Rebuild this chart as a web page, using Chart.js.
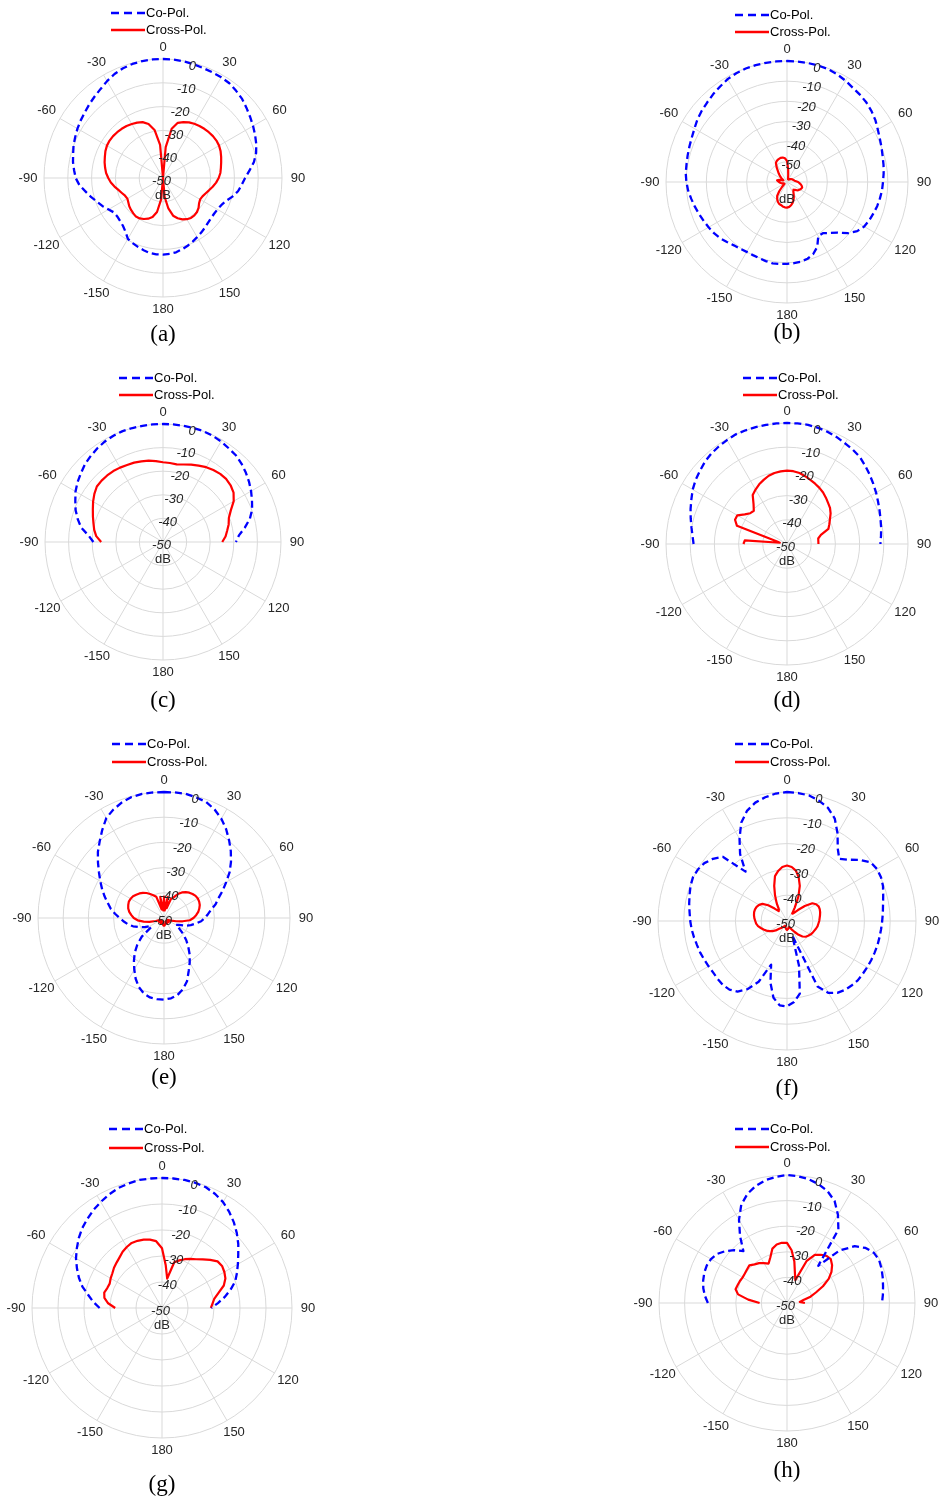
<!DOCTYPE html>
<html>
<head>
<meta charset="utf-8">
<title>Radiation patterns</title>
<script src="https://cdn.jsdelivr.net/npm/chart.js@4.4.1/dist/chart.umd.min.js"></script>
<style>
  body { margin: 0; background: #fff; width: 939px; height: 1500px; position: relative; overflow: hidden; }
  canvas { position: absolute; }
</style>
</head>
<body>
<script>
// Angle of each sample, degrees clockwise from broadside (0 at top)
const angles = [0,5,10,15,20,25,30,35,40,45,50,55,
  60,65,70,75,80,85,90,95,100,105,110,115,
  120,125,130,135,140,145,150,155,160,165,170,175,
  180,185,190,195,200,205,210,215,220,225,230,235,
  240,245,250,255,260,265,270,275,280,285,290,295,
  300,305,310,315,320,325,330,335,340,345,350,355];

const angleTicks = ['0','30','60','90','120','150','180','-150','-120','-90','-60','-30'];
const radialTicks = [0, -10, -20, -30, -40, -50];
const seriesNames = ['Co-Pol.', 'Cross-Pol.'];

// (a)
const coA = [0, 0, -0.2, -0.5, -0.8, -1.0, -1.1, -1.4, -2.2, -3.0, -4.2, -5.3,
  -6.3, -7.3, -8.3, -9.5, -11.2, -13.5, -15.5, -16.8, -18.0, -19.8, -21.8, -23.0,
  -23.6, -23.8, -23.7, -23.3, -22.7, -22.0, -21.3, -20.5, -19.7, -19.0, -18.3, -18.0,
  -17.8, -17.8, -18.0, -18.6, -19.2, -19.8, -20.5, -22.5, -23.8, -24.5, -24.9, -24.8,
  -23.6, -22.0, -20.6, -18.8, -17.0, -14.8, -13.3, -12.5, -11.6, -10.9, -10.0, -9.3,
  -8.5, -7.8, -7.1, -6.2, -5.3, -4.3, -3.0, -1.8, -0.9, -0.4, -0.1, 0];
const crossA = [-50, -37, -29, -26, -25, -24.2, -23.7, -23.3, -23.0, -22.8, -22.6, -22.6,
  -22.8, -23.3, -24.0, -24.7, -25.3, -25.8, -26.6, -27.6, -28.8, -30.0, -31.0, -31.7,
  -32.0, -31.5, -30.5, -29.8, -29.5, -29.5, -30.0, -30.8, -32.0, -33.6, -37, -42,
  -50, -41, -35.5, -33.0, -31.8, -31.0, -30.4, -30.2, -30.6, -31.0, -31.5, -32.2,
  -32.7, -32.4, -31.6, -30.6, -29.3, -28.0, -27.0, -26.0, -25.3, -24.6, -24.0, -23.3,
  -22.8, -22.6, -22.6, -22.8, -23.0, -23.3, -23.8, -24.3, -25, -26.5, -29.5, -36];

// (b)
const coB = [0, 0, -0.1, -0.2, -0.4, -1.1, -2.0, -3.0, -3.6, -4.3, -5.3, -6.5,
  -8.0, -9.2, -10.1, -10.9, -11.4, -11.9, -12.4, -12.7, -13.2, -13.7, -14.4, -15.0,
  -15.8, -17.5, -20.5, -24.5, -27.0, -29.0, -29.0, -24.5, -22.0, -20.6, -19.9, -19.6,
  -19.4, -19.2, -19.0, -19.4, -19.8, -20.0, -20.0, -19.6, -19.0, -17.9, -16.7, -15.8,
  -15.1, -14.4, -13.6, -12.7, -11.8, -10.8, -10.1, -9.6, -9.4, -9.0, -8.5, -7.9,
  -7.0, -5.8, -4.9, -4.1, -3.1, -2.2, -1.1, -0.5, -0.1, 0, 0, 0];
const crossB = [-49.5, -53.5, -56.5, -58, -58.5, -58.5, -58.5, -58.5, -58.3, -58, -57.8, -57.5,
  -57.3, -57, -56.8, -56.5, -56.2, -55.5, -54.5, -53.8, -53, -52.4, -52, -52.2,
  -52.6, -53, -53.6, -54.5, -55, -54.5, -53.5, -52, -50.5, -49.3, -48.3, -47.6,
  -47.3, -47.4, -47.7, -48.2, -48.5, -49.2, -50.3, -51.5, -54, -56.5, -58, -58.5,
  -58.5, -58.3, -58, -57.5, -57, -56.5, -56, -55.5, -55, -56, -57.5, -58,
  -57.5, -56.5, -55.5, -54.3, -53, -51, -49, -48.3, -47.9, -47.6, -47.7, -48.2];

// (c)
const coC = [0, 0, 0, 0, 0, -0.3, -0.8, -1.5, -2.0, -3.0, -4.2, -5.5,
  -6.9, -8.4, -9.8, -11.9, -14.8, -17.7, -19.1, null, null, null, null, null,
  null, null, null, null, null, null, null, null, null, null, null, null,
  null, null, null, null, null, null, null, null, null, null, null, null,
  null, null, null, null, null, null, -20.5, -18.3, -14.8, -12.6, -10.6, -9.0,
  -7.2, -5.8, -4.6, -3.3, -2.4, -1.5, -0.8, -0.3, 0, 0, 0, 0];
const crossC = [-16.2, -16.4, -16.6, -16.0, -15.1, -14.3, -13.4, -12.8, -12.3, -12.2, -12.6, -13.5,
  -15.4, -18.3, -20.3, -21.2, -22.4, -23.4, -24.9, null, null, null, null, null,
  null, null, null, null, null, null, null, null, null, null, null, null,
  null, null, null, null, null, null, null, null, null, null, null, null,
  null, null, null, null, null, null, -23.8, -21.6, -20.4, -19.5, -18.4, -17.2,
  -15.8, -14.5, -13.4, -13.2, -13.2, -13.3, -13.6, -14.0, -14.2, -14.6, -15.0, -15.6];

// (d)
const coD = [0, 0, 0, -0.3, -0.7, -1.3, -2.0, -2.5, -3.1, -4.3, -5.4, -6.5,
  -7.5, -8.5, -9.3, -10.0, -10.5, -11.0, -11.4, null, null, null, null, null,
  null, null, null, null, null, null, null, null, null, null, null, null,
  null, null, null, null, null, null, null, null, null, null, null, null,
  null, null, null, null, null, null, -11.4, -10.8, -9.9, -8.8, -7.6, -6.4,
  -5.0, -3.9, -3.0, -2.0, -1.3, -0.8, -0.4, 0, 0, 0, 0, 0];
const crossD = [-19.7, -19.8, -20.2, -21.0, -21.8, -22.5, -23.2, -24.0, -25.0, -26.0, -26.8, -28.0,
  -29.5, -30.7, -31.8, -35.5, -36.9, -37.0, -37.0, null, null, null, null, null,
  null, null, null, null, null, null, null, null, null, null, null, null,
  null, null, null, null, null, null, null, null, null, null, null, null,
  null, null, null, null, null, null, -32, -32.5, -47, -45.5, -28, -26.3,
  -26.3, -28.7, -30.2, -30.6, -28.5, -25.3, -24.0, -22.8, -21.8, -20.8, -20.2, -19.9];

// (e)
const coE = [0, 0, 0, -0.5, -1.0, -2.5, -4.5, -7.0, -9.8, -12.5, -15.3, -18.2,
  -21.5, -24.3, -27.0, -28.8, -31.0, -32.5, -33.8, -35.2, -37.2, -39.0, -41.0, -43.5,
  -44.5, -42.5, -40.0, -37.5, -35.0, -32.2, -29.6, -26.8, -23.3, -20.8, -19.0, -18.0,
  -17.6, -17.7, -18.0, -19.0, -20.8, -23.4, -26.4, -29.2, -31.9, -35.0, -38.5, -44.0,
  -43.5, -41.5, -39.5, -37.3, -35.5, -34.0, -32.4, -30.5, -28.5, -26.9, -24.9, -22.9,
  -20.8, -18.5, -15.8, -12.9, -10.3, -7.3, -4.2, -2.5, -1.2, -0.3, 0, 0];
const crossE = [-41.5, -47, -41.5, -46, -42, -41, -39, -37.6, -36.6, -35.8, -35.2, -34.7,
  -34.5, -34.6, -34.9, -35.5, -36.2, -37.2, -38.3, -39.7, -42.5, -45, -47, -48,
  -48.5, -48, -47.5, -48, -48.5, -48, -47.5, -48, -48.5, -48, -47.5, -47,
  -47, -47, -47.5, -48, -48.5, -48, -47.5, -48, -48.5, -48, -47.5, -48,
  -48.5, -48, -46.5, -44, -41.8, -39.5, -38, -37, -36, -35.3, -34.9, -34.6,
  -34.7, -35, -35.6, -36.2, -37, -37.9, -39, -40, -41, -46.5, -41.5, -47];

// (f)
const coF = [0, -0.2, -0.6, -1.8, -3.4, -6.2, -10.8, -15.7, -18.5, -16.4, -13.2, -10.4,
  -9.7, -9.8, -10.4, -11.4, -12.2, -12.7, -13.1, -13.4, -13.6, -13.7, -13.9, -14.0,
  -14.1, -14.2, -14.2, -14.6, -15.1, -16.0, -17.8, -22, -44, -32, -21.4, -18.5,
  -16.9, -17.2, -19.8, -25.2, -32, -24, -19.5, -16.6, -15.3, -14.9, -15.0, -15.1,
  -14.9, -14.6, -14.2, -13.9, -13.4, -12.9, -12.5, -12.1, -11.5, -10.9, -10.2, -9.8,
  -10.1, -10.9, -12.5, -14.8, -25, -18.3, -13.2, -8.0, -4.6, -2.5, -1.3, -0.4];
const crossF = [-28.5, -29.0, -30.2, -32.5, -35.5, -39.5, -44, -46.5, -46, -44, -41, -38,
  -37, -36.5, -36.5, -36.7, -37, -37.3, -37.5, -37.8, -38, -38.4, -38.8, -39.1,
  -39.5, -40, -40.5, -41.5, -43, -44.8, -46, -47, -47.5, -47.5, -47, -46.8,
  -46.5, -46.8, -47.2, -47.5, -48, -47.8, -47.5, -47, -46.5, -45.7, -44.3, -43.2,
  -42.2, -41.2, -40.3, -39.5, -38.6, -38, -37.7, -37.3, -37, -36.8, -36.8, -37,
  -37.5, -38.4, -40.5, -43.2, -45, -44.5, -42, -39, -35.5, -32, -30.3, -29.0];

// (g)
const coG = [0, 0, 0, -0.2, -0.6, -1.6, -3.0, -4.9, -7.0, -9.3, -11.7, -14.2,
  -16.3, -18.2, -20.0, -22.7, -25.5, -28.4, -31.0, null, null, null, null, null,
  null, null, null, null, null, null, null, null, null, null, null, null,
  null, null, null, null, null, null, null, null, null, null, null, null,
  null, null, null, null, null, null, -26.0, -23.5, -21.2, -18.3, -16.0, -13.9,
  -11.8, -10.0, -8.2, -6.6, -5.3, -4.0, -2.9, -1.8, -0.9, -0.4, 0, 0];
const crossG = [-27.0, -33.5, -38.5, -31.8, -30.5, -29.3, -28.2, -27.1, -25.6, -23.8, -22.1, -21.8,
  -22.3, -23.1, -24.7, -27.5, -29.6, -30.5, -31.2, null, null, null, null, null,
  null, null, null, null, null, null, null, null, null, null, null, null,
  null, null, null, null, null, null, null, null, null, null, null, null,
  null, null, null, null, null, null, -32, -29.2, -27.5, -27.0, -27.6, -27.8,
  -27.2, -26.7, -25.9, -25.3, -24.6, -23.6, -22.9, -22.4, -22.5, -22.8, -23.3, -24.2];

// (h)
const coH = [0, -0.3, -0.9, -2.0, -3.6, -6.0, -10.2, -15.0, -31, -21, -15.5, -12.5,
  -10.8, -10.3, -10.7, -11.3, -11.9, -12.4, -12.9, null, null, null, null, null,
  null, null, null, null, null, null, null, null, null, null, null, null,
  null, null, null, null, null, null, null, null, null, null, null, null,
  null, null, null, null, null, null, -19.1, -17.8, -16.8, -16.1, -15.6, -15.4,
  -15.7, -16.6, -18.5, -20.8, -23.5, -18.0, -12.5, -7.7, -4.7, -2.7, -1.3, -0.5];
const crossH = [-26.5, -29.3, -33.5, -38, -40.5, -32, -28.3, -27, -26, -25.8, -27, -28.8,
  -31.2, -34.5, -38, -40.5, -43.5, -45, -43, null, null, null, null, null,
  null, null, null, null, null, null, null, null, null, null, null, null,
  null, null, null, null, null, null, null, null, null, null, null, null,
  null, null, null, null, null, null, -39.3, -34.8, -30.6, -29.2, -29.5, -29.7,
  -30.0, -29.9, -29.6, -29.2, -30.3, -31.0, -32.0, -33.0, -31.0, -28.0, -26.8, -26.4];

// Where each pattern sits on the page, and its own legend/caption offsets
const panels = [
  { tag: '(a)', co: coA, cross: crossA, cx: 163, cy: 178,  r: 119, min: -50, legX: -52, legY: -165, legGap: 17, capY: 157 },
  { tag: '(b)', co: coB, cross: crossB, cx: 787, cy: 182,  r: 121, min: -60, legX: -52, legY: -167, legGap: 17, capY: 151 },
  { tag: '(c)', co: coC, cross: crossC, cx: 163, cy: 542,  r: 118, min: -50, legX: -44, legY: -164, legGap: 17, capY: 159 },
  { tag: '(d)', co: coD, cross: crossD, cx: 787, cy: 544,  r: 121, min: -50, legX: -44, legY: -166, legGap: 17, capY: 157 },
  { tag: '(e)', co: coE, cross: crossE, cx: 164, cy: 918,  r: 126, min: -50, legX: -52, legY: -174, legGap: 18, capY: 160 },
  { tag: '(f)', co: coF, cross: crossF, cx: 787, cy: 921,  r: 129, min: -50, legX: -52, legY: -177, legGap: 18, capY: 168 },
  { tag: '(g)', co: coG, cross: crossG, cx: 162, cy: 1308, r: 130, min: -50, legX: -53, legY: -179, legGap: 19, capY: 177 },
  { tag: '(h)', co: coH, cross: crossH, cx: 787, cy: 1303, r: 128, min: -50, legX: -52, legY: -174, legGap: 18, capY: 168 }
];

const GRID = '#d9d9d9';
const TEXT = '#262626';
const SANS = '"Liberation Sans", Arial, sans-serif';

// Rim labels, dB labels along 15 deg, the stacked legend and the panel caption
const polarDecor = {
  id: 'polarDecor',
  afterDraw(chart, args, opts) {
    const ctx = chart.ctx;
    const scale = chart.scales.r;
    const cx = scale.xCenter, cy = scale.yCenter, R = scale.drawingArea;
    ctx.save();

    ctx.fillStyle = TEXT;
    ctx.textAlign = 'center';
    ctx.textBaseline = 'middle';
    ctx.font = '13px ' + SANS;
    angleTicks.forEach((txt, k) => {
      const idx = k * 6;
      const a = scale.getIndexAngle(idx);
      const p = scale.getPointPosition(idx, R + 12 + 4 * Math.abs(Math.sin(a)));
      ctx.fillText(txt, p.x, p.y);
    });

    ctx.font = 'italic 13px ' + SANS;
    radialTicks.forEach(v => {
      const p = scale.getPointPosition(3, scale.getDistanceFromCenterForValue(v));
      ctx.fillText(String(v), p.x - 1.5, p.y + 3);
    });
    ctx.font = '13px ' + SANS;
    ctx.fillText('dB', cx, cy + 17.5);

    // legend: two stacked rows, sample line then label
    ctx.textAlign = 'left';
    ctx.font = '13px ' + SANS;
    chart.data.datasets.forEach((ds, i) => {
      const x0 = cx + opts.legX;
      const y = cy + opts.legY + i * opts.legGap;
      ctx.save();
      ctx.strokeStyle = ds.borderColor;
      ctx.lineWidth = 2.3;
      ctx.setLineDash(ds.borderDash ? [8, 5] : []);
      ctx.beginPath();
      ctx.moveTo(x0, y);
      ctx.lineTo(x0 + 34, y);
      ctx.stroke();
      ctx.restore();
      ctx.fillStyle = '#000';
      ctx.fillText(ds.label, x0 + 35, y);
    });

    ctx.textAlign = 'center';
    ctx.fillStyle = '#000';
    ctx.font = '23px "Liberation Serif", "Times New Roman", serif';
    ctx.fillText(opts.tag, cx, cy + opts.capY);
    ctx.restore();
  }
};

const PAD_X = 75, PAD_TOP = 75, PAD_BOTTOM = 70;

panels.forEach(p => {
  const cv = document.createElement('canvas');
  const w = 2 * p.r + 2 * PAD_X;
  const h = 2 * p.r + PAD_TOP + PAD_BOTTOM;
  cv.width = w;
  cv.height = h;
  cv.style.width = w + 'px';
  cv.style.height = h + 'px';
  cv.style.left = (p.cx - p.r - PAD_X) + 'px';
  cv.style.top = (p.cy - p.r - PAD_TOP) + 'px';
  document.body.appendChild(cv);

  new Chart(cv, {
    type: 'radar',
    data: {
      labels: angles,
      datasets: [
        {
          label: seriesNames[0],
          data: p.co,
          borderColor: '#0000ff',
          borderWidth: 2.3,
          borderDash: [7, 4],
          borderJoinStyle: 'round',
          fill: false,
          spanGaps: false,
          pointRadius: 0,
          pointHoverRadius: 0
        },
        {
          label: seriesNames[1],
          data: p.cross,
          borderColor: '#ff0000',
          borderWidth: 2.2,
          borderJoinStyle: 'round',
          fill: false,
          spanGaps: false,
          pointRadius: 0,
          pointHoverRadius: 0
        }
      ]
    },
    options: {
      responsive: false,
      animation: false,
      events: [],
      layout: { padding: { left: PAD_X, right: PAD_X, top: PAD_TOP, bottom: PAD_BOTTOM } },
      elements: { line: { tension: 0 } },
      plugins: {
        legend: { display: false },
        tooltip: { enabled: false },
        polarDecor: { tag: p.tag, legX: p.legX, legY: p.legY, legGap: p.legGap, capY: p.capY }
      },
      scales: {
        r: {
          min: p.min,
          max: 0,
          beginAtZero: false,
          startAngle: 0,
          ticks: { display: false, stepSize: 10 },
          grid: { circular: true, color: GRID, lineWidth: 1 },
          angleLines: {
            display: true,
            color: GRID,
            lineWidth: ctx => (ctx.index % 6 === 0 ? 1 : 0)
          },
          pointLabels: { display: false }
        }
      }
    },
    plugins: [polarDecor]
  });
});
</script>
</body>
</html>
